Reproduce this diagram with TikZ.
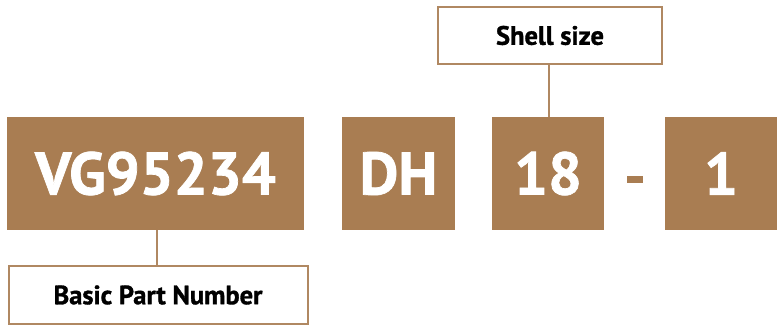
\documentclass[tikz,border=0pt]{standalone}
\usepackage{fontspec}
\setmainfont{PT Sans}[BoldFeatures={FakeBold=1.2}]
\definecolor{tan}{RGB}{169,125,82}
\definecolor{tanline}{RGB}{176,136,98}
\begin{document}
\begin{tikzpicture}[x=1pt,y=-1pt,
  codebox/.style={fill=tan,draw=none,text=white,font=\bfseries\fontsize{60}{60}\selectfont,inner sep=0pt},
  labelbox/.style={fill=white,draw=tanline,line width=2pt,text=black,font=\bfseries\fontsize{26.5}{26.5}\selectfont,inner sep=0pt},
  link/.style={draw=tanline,line width=2pt}]
\useasboundingbox (0,0) rectangle (783,328);
\node[codebox,minimum width=297pt,minimum height=113pt] (vg) at (155.5,173.5) {VG95234};
\node[codebox,minimum width=113pt,minimum height=113pt] (dh) at (398.5,173.5) {DH};
\node[codebox,minimum width=112pt,minimum height=113pt] (n18) at (548,173.5) {18};
\node[fill=tan,minimum width=16pt,minimum height=7pt,inner sep=0pt] (dash) at (635,179.5) {};
\node[codebox,minimum width=112pt,minimum height=113pt] (n1) at (721,173.5) {1};
\node[labelbox,minimum width=299pt,minimum height=58pt] (bpn) at (158,295) {Basic Part Number};
\node[labelbox,minimum width=224pt,minimum height=57pt] (ss) at (550,35.5) {Shell size};
\draw[link] (vg.south -| 157,0) -- (bpn.north -| 157,0);
\draw[link] (ss.south -| 549,0) -- (n18.north -| 549,0);
\end{tikzpicture}
\end{document}
